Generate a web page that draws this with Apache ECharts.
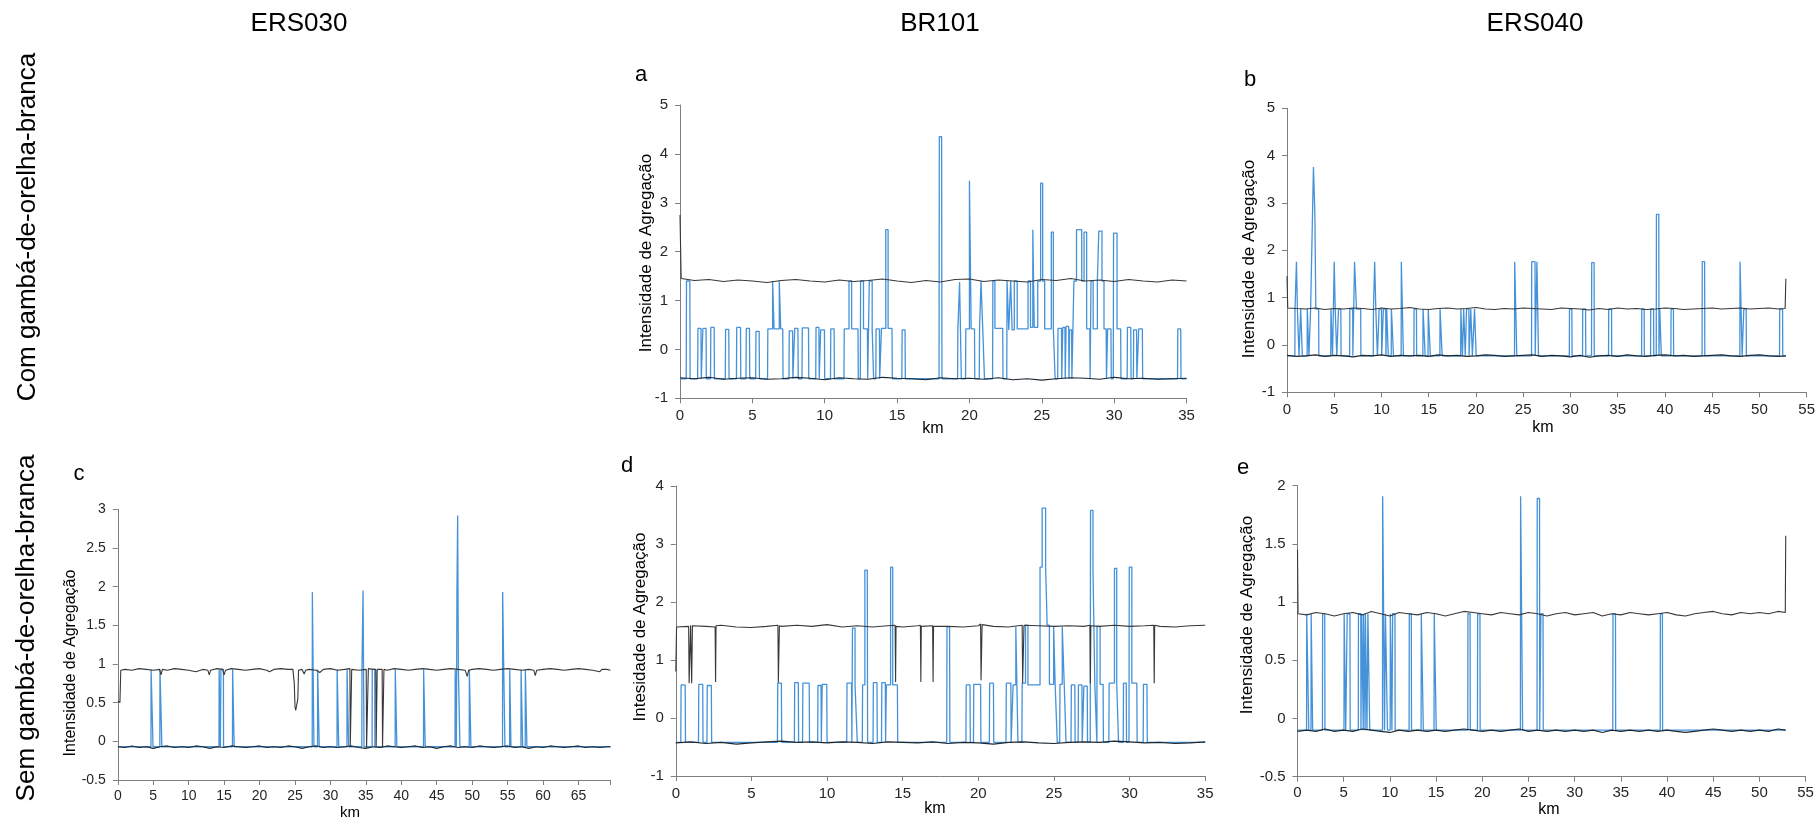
<!DOCTYPE html>
<html><head><meta charset="utf-8">
<script src="https://cdn.jsdelivr.net/npm/echarts@6/dist/echarts.min.js"></script>
<style>html,body{margin:0;padding:0;background:#fff}#c{width:1818px;height:822px}</style>
</head><body><div id="c"></div><script>
// ---------------- DATA ----------------
// Blue observed line: segments [startKm, endKm, level]; outside segments the line sits at the panel base level.
const BASE_A = -0.6;
const BLUE_A = [
[0.45,0.68,1.40],[1.24,1.45,0.43],[1.58,1.80,0.43],[2.13,2.36,0.45],[3.15,3.37,0.41],[3.92,4.18,0.45],
[4.58,4.80,0.43],[5.25,5.47,0.37],[6.07,6.40,0.42],[6.40,6.50,1.40],[6.50,6.86,0.42],[6.86,6.96,1.40],
[6.96,7.10,0.42],[7.55,7.78,0.38],[7.93,8.15,0.43],[8.45,8.88,0.44],[9.40,9.60,0.45],[9.72,9.98,0.40],
[10.42,10.65,0.42],[11.35,11.68,0.42],[11.68,11.86,1.40],[11.86,12.30,0.42],[12.48,12.68,1.40],[12.68,12.95,0.42],
[13.08,13.28,1.40],[13.28,13.36,0.42],[13.55,13.78,0.42],[13.92,14.22,0.43],[14.22,14.38,2.45],[14.38,14.65,0.43],
[15.35,15.55,0.40],[17.92,18.08,4.35],[19.20,19.32,0.40],[19.32,19.42,1.38],[19.75,20.00,0.42],[20.00,20.12,3.45],
[20.12,20.35,0.42],[20.70,20.80,0.42],[20.80,20.92,1.40],[20.92,21.02,0.42],[21.62,21.76,1.40],[21.76,22.30,0.43],
[22.60,22.72,1.40],[22.72,22.85,0.40],[22.85,22.95,1.40],[22.95,23.10,0.40],[23.10,23.30,1.40],[23.30,24.05,0.42],
[24.05,24.22,1.40],[24.22,24.38,0.45],[24.38,24.48,2.45],[24.48,24.72,0.45],[24.72,24.92,1.40],[24.92,25.06,3.40],
[25.06,25.20,1.40],[25.20,25.66,0.42],[25.66,25.80,2.40],[25.80,25.90,0.42],[26.12,26.36,0.43],[26.45,26.60,0.45],
[26.68,26.86,0.47],[26.92,27.06,0.40],[27.22,27.40,1.40],[27.40,27.76,2.45],[27.76,27.92,1.40],[27.92,28.10,2.40],
[28.10,28.32,0.42],[28.40,28.55,1.40],[28.55,28.84,0.42],[28.84,28.94,1.40],[28.94,29.16,2.42],[29.16,29.30,1.40],
[29.30,29.45,0.42],[29.55,29.78,0.42],[29.96,30.20,2.38],[30.20,30.45,0.42],[30.92,31.15,0.45],[31.35,31.55,0.40],
[31.70,31.95,0.42],[34.40,34.60,0.42]
];
const UPPER_A_HEAD = [[0,2.75],[0.08,1.45]];
const UPPER_A = [1.45,1.41,1.43,1.39,1.42,1.40,1.37,1.41,1.43,1.40,1.38,1.42,1.39,1.41,1.44,1.40,1.37,1.41,1.38,1.43,1.44,1.39,1.42,1.40,1.38,1.43,1.41,1.45,1.40,1.42,1.39,1.43,1.40,1.38,1.42,1.40];
const LOWER_A = [-0.58,-0.60,-0.57,-0.61,-0.59,-0.58,-0.61,-0.60,-0.57,-0.59,-0.62,-0.58,-0.60,-0.61,-0.57,-0.59,-0.60,-0.62,-0.58,-0.60,-0.59,-0.61,-0.58,-0.62,-0.60,-0.63,-0.60,-0.58,-0.59,-0.61,-0.57,-0.60,-0.59,-0.61,-0.60,-0.59];

const BASE_B = -0.23;
const BLUE_B = [
[0.85,1.00,0.76],[1.00,1.10,1.76],[1.10,1.25,0.76],[1.45,1.60,0.76],[2.15,2.30,0.76],[2.50,2.70,0.76],
[2.70,2.80,2.76],[2.80,2.95,3.76],[2.95,3.05,2.76],[3.05,3.35,0.76],[4.65,4.80,0.76],[5.00,5.10,1.76],
[5.10,5.25,0.76],[5.45,5.70,0.76],[6.65,6.95,0.76],[7.15,7.35,1.76],[7.35,7.80,0.76],[9.15,9.28,0.76],
[9.28,9.40,1.76],[9.40,9.55,0.76],[9.75,10.00,0.76],[10.20,10.45,0.76],[10.55,10.70,0.76],[11.05,11.25,0.76],
[12.10,12.30,1.76],[13.45,13.70,0.76],[14.40,14.60,0.76],[14.95,15.15,0.76],[16.20,16.40,0.76],[18.40,18.55,0.76],
[18.70,18.85,0.76],[19.00,19.25,0.76],[19.45,19.60,0.76],[19.85,20.00,0.76],[24.10,24.30,1.76],[25.90,26.25,1.76],
[26.45,26.60,1.76],[29.90,30.15,0.76],[31.30,31.60,0.76],[32.25,32.50,1.74],[34.05,34.35,0.76],[37.55,37.80,0.76],
[38.50,38.80,0.76],[39.10,39.35,2.76],[39.45,39.60,0.76],[40.65,40.90,0.76],[43.95,44.20,1.76],[47.95,48.15,1.76],
[48.35,48.60,0.76],[52.15,52.45,0.76]
];
const UPPER_B_HEAD = [[0,1.45],[0.08,0.78]];
const UPPER_B = [0.78,0.77,0.76,0.78,0.75,0.77,0.76,0.78,0.77,0.75,0.78,0.76,0.77,0.79,0.76,0.75,0.77,0.78,0.76,0.77,0.79,0.76,0.75,0.77,0.76,0.78,0.77,0.76,0.75,0.78,0.77,0.76,0.74,0.77,0.75,0.78,0.76,0.77,0.75,0.76,0.78,0.77,0.75,0.76,0.77,0.78,0.76,0.77,0.78,0.76,0.77,0.78,0.76];
const UPPER_B_TAIL = [[52.72,0.77],[52.8,1.40]];
const LOWER_B = [-0.22,-0.24,-0.23,-0.21,-0.24,-0.22,-0.23,-0.25,-0.22,-0.23,-0.21,-0.24,-0.22,-0.23,-0.22,-0.24,-0.21,-0.23,-0.22,-0.24,-0.23,-0.21,-0.22,-0.24,-0.23,-0.22,-0.21,-0.24,-0.22,-0.23,-0.25,-0.22,-0.26,-0.23,-0.22,-0.24,-0.21,-0.23,-0.24,-0.22,-0.21,-0.23,-0.22,-0.24,-0.23,-0.22,-0.21,-0.23,-0.24,-0.22,-0.21,-0.23,-0.24];
const LOWER_B_TAIL = [[52.8,-0.23]];

const BASE_C = -0.07;
const BLUE_C = [
[4.70,4.95,0.93],[5.95,6.20,0.93],[14.30,14.45,0.93],[14.55,14.90,0.93],[16.20,16.40,0.93],[27.45,27.65,1.93],
[28.20,28.40,0.93],[30.95,31.15,0.93],[32.35,32.55,0.93],[34.45,34.60,0.93],[34.60,34.72,1.95],[35.90,36.25,0.93],
[39.15,39.35,0.93],[43.15,43.35,0.93],[47.60,47.75,0.93],[47.85,47.95,1.93],[47.95,48.05,2.92],[48.05,48.25,0.93],
[49.60,49.80,0.93],[54.30,54.45,1.93],[54.45,54.60,0.93],[55.30,55.45,0.93],[56.90,57.10,0.93],[57.50,57.70,0.93]
];
const UPPER_C = [[0,0.52],[0.30,0.50],[0.42,0.92],[1,0.93],[2,0.92],[3,0.94],[4,0.93],[5,0.92],[5.9,0.93],[6.1,0.86],[6.3,0.93],
[7,0.92],[8,0.94],[9,0.93],[10,0.92],[11,0.90],[12,0.93],[12.7,0.92],[12.9,0.86],[13.1,0.92],[14,0.94],[14.8,0.93],[15,0.86],
[15.2,0.92],[16,0.94],[17,0.93],[18,0.92],[19,0.93],[20,0.94],[21,0.92],[21.4,0.90],[22,0.93],[23,0.94],[24,0.93],[24.7,0.93],
[24.9,0.75],[25.0,0.45],[25.1,0.40],[25.3,0.40],[25.4,0.55],[25.5,0.92],[26,0.93],[26.3,0.87],[26.5,0.92],[27,0.93],[28,0.92],
[28.5,0.89],[29,0.93],[30,0.94],[31,0.92],[32,0.93],[32.75,0.94],[32.8,-0.07],[32.95,-0.07],[33.0,0.93],[34,0.92],[35.05,0.93],
[35.1,-0.08],[35.3,-0.08],[35.35,0.94],[36,0.93],[36.4,0.93],[36.45,-0.07],[36.55,-0.07],[36.6,0.93],[37.3,0.93],[37.35,-0.08],
[37.5,-0.08],[37.55,0.93],[38,0.92],[39,0.94],[40,0.93],[41,0.92],[42,0.93],[43,0.94],[44,0.93],[45,0.92],[46,0.93],[47,0.94],
[48,0.93],[49,0.92],[49.3,0.84],[49.5,0.92],[50,0.93],[51,0.94],[52,0.93],[53,0.92],[54,0.93],[55,0.94],[56,0.93],[57,0.92],
[58,0.93],[58.7,0.92],[58.9,0.85],[59.1,0.92],[60,0.93],[61,0.94],[62,0.93],[63,0.92],[64,0.93],[65,0.94],[66,0.93],[67,0.92],
[68,0.90],[68.3,0.93],[69,0.93],[69.5,0.92]];
const LOWER_C = [-0.07,-0.08,-0.06,-0.08,-0.07,-0.09,-0.07,-0.06,-0.08,-0.07,-0.08,-0.06,-0.07,-0.09,-0.07,-0.08,-0.06,-0.07,-0.08,-0.07,-0.06,-0.08,-0.07,-0.08,-0.06,-0.07,-0.09,-0.07,-0.06,-0.08,-0.07,-0.08,-0.07,-0.06,-0.08,-0.09,-0.07,-0.08,-0.06,-0.07,-0.08,-0.07,-0.06,-0.08,-0.07,-0.09,-0.07,-0.06,-0.08,-0.07,-0.08,-0.06,-0.07,-0.08,-0.07,-0.06,-0.08,-0.07,-0.09,-0.07,-0.08,-0.06,-0.07,-0.08,-0.07,-0.06,-0.08,-0.07,-0.08,-0.07];
const LOWER_C_TAIL = [[69.5,-0.07]];

const BASE_D = -0.42;
const BLUE_D = [
[0.35,0.62,0.57],[1.52,1.78,0.58],[2.08,2.35,0.56],[6.74,6.98,0.60],[7.86,8.10,0.61],[8.40,8.82,0.60],
[9.40,9.60,0.56],[9.68,9.98,0.58],[11.32,11.62,0.60],[11.68,11.85,1.55],[11.85,11.98,0.56],[12.35,12.50,0.57],
[12.50,12.66,2.55],[13.06,13.30,0.61],[13.62,13.85,0.61],[13.92,14.20,0.57],[14.20,14.34,2.60],[14.34,14.65,0.57],
[17.93,18.10,1.57],[19.20,19.45,0.57],[19.70,20.15,0.58],[20.75,21.00,0.60],[21.85,22.15,0.60],[22.30,22.48,0.57],
[22.48,22.60,1.57],[22.90,23.12,0.60],[23.12,23.28,1.60],[23.28,24.08,0.57],[24.08,24.22,2.60],[24.22,24.45,3.62],
[24.45,24.55,2.60],[24.55,24.70,1.60],[24.70,24.98,0.58],[24.98,25.08,1.57],[25.08,25.20,0.58],[25.40,25.55,0.58],
[25.55,25.68,1.57],[25.68,25.78,0.58],[26.15,26.38,0.57],[26.62,26.85,0.57],[26.98,27.20,0.55],[27.42,27.58,3.58],
[27.58,27.70,2.58],[27.70,27.82,0.60],[27.85,28.05,1.58],[28.05,28.25,0.58],[28.65,29.00,0.60],[29.00,29.15,2.58],
[29.15,29.25,0.60],[29.60,29.78,0.60],[29.98,30.15,2.60],[30.15,30.48,0.60],[30.92,31.15,0.58]
];
const UPPER_D = [[0,0.80],[0.05,1.57],[0.85,1.58],[0.88,0.60],[0.95,0.60],[0.98,1.60],[1.02,1.61],[1.05,0.60],[1.08,0.62],
[1.10,1.59],[2,1.58],[2.6,1.57],[2.63,0.62],[2.66,1.59],[3,1.60],[4,1.57],[5,1.56],[6,1.58],[6.75,1.60],[6.78,0.61],[6.82,0.62],
[6.85,1.59],[7,1.58],[8,1.60],[9,1.58],[10,1.61],[11,1.57],[12,1.59],[13,1.57],[14,1.59],[14.5,1.60],[14.53,0.62],[14.56,1.58],
[15,1.57],[16,1.59],[16.17,1.60],[16.2,0.62],[16.23,1.58],[16.98,1.59],[17.01,0.62],[17.04,1.58],[18,1.58],[19,1.57],[20,1.59],
[20.15,1.62],[20.18,0.65],[20.22,0.66],[20.25,1.61],[21,1.58],[22,1.57],[22.9,1.60],[22.93,0.60],[22.98,0.62],[23.02,1.60],
[24,1.59],[25,1.58],[26,1.59],[27,1.58],[27.38,1.60],[27.41,0.60],[27.44,1.59],[28,1.58],[29,1.60],[30,1.58],[31,1.59],
[31.6,1.60],[31.63,0.60],[31.66,1.60],[32,1.58],[33,1.57],[34,1.59],[35,1.60]];
const LOWER_D = [-0.43,-0.41,-0.44,-0.42,-0.45,-0.43,-0.41,-0.40,-0.42,-0.41,-0.43,-0.41,-0.42,-0.44,-0.41,-0.42,-0.43,-0.41,-0.44,-0.42,-0.43,-0.45,-0.42,-0.41,-0.43,-0.44,-0.42,-0.41,-0.42,-0.40,-0.41,-0.43,-0.42,-0.44,-0.43,-0.41];

const BASE_E = -0.10;
const BLUE_E = [
[1.00,1.20,0.90],[1.48,1.62,0.90],[2.72,2.95,0.90],[5.05,5.20,0.90],[5.38,5.68,0.90],[6.60,6.85,0.90],
[6.95,7.10,0.90],[7.15,7.30,0.90],[7.35,7.50,0.90],[7.62,7.80,0.90],[9.22,9.40,1.91],[9.52,9.72,0.90],
[10.05,10.20,0.90],[10.30,10.55,0.90],[12.10,12.32,0.90],[13.40,13.60,0.90],[14.80,15.00,0.90],[18.45,18.68,0.90],
[19.50,19.75,0.90],[24.15,24.35,1.91],[25.95,26.20,1.89],[26.35,26.58,0.90],[34.15,34.42,0.90],[39.28,39.50,0.90]
];
const UPPER_E_HEAD = [[0,1.45],[0.06,0.90]];
const UPPER_E = [0.90,0.89,0.91,0.90,0.88,0.90,0.91,0.89,0.92,0.90,0.88,0.91,0.90,0.89,0.91,0.90,0.88,0.90,0.92,0.91,0.90,0.89,0.91,0.90,0.89,0.91,0.90,0.88,0.90,0.91,0.89,0.90,0.91,0.88,0.90,0.89,0.91,0.90,0.89,0.90,0.91,0.89,0.88,0.90,0.91,0.92,0.90,0.89,0.91,0.90,0.91,0.90,0.92];
const UPPER_E_TAIL = [[52.8,0.91],[52.85,1.57]];
const LOWER_E = [-0.11,-0.10,-0.11,-0.09,-0.11,-0.10,-0.11,-0.09,-0.10,-0.11,-0.12,-0.10,-0.11,-0.10,-0.11,-0.10,-0.11,-0.10,-0.09,-0.10,-0.11,-0.10,-0.11,-0.10,-0.09,-0.11,-0.10,-0.11,-0.10,-0.11,-0.10,-0.11,-0.10,-0.12,-0.10,-0.11,-0.10,-0.11,-0.10,-0.11,-0.10,-0.11,-0.12,-0.11,-0.10,-0.09,-0.10,-0.11,-0.10,-0.11,-0.10,-0.11,-0.09];
const LOWER_E_TAIL = [[52.85,-0.10]];

const COLUMN_TITLES = ['ERS030','BR101','ERS040'];
const ROW_TITLES = ['Com gambá-de-orelha-branca','Sem gambá-de-orelha-branca'];
const Y_TITLE = 'Intensidade de Agregação';
const Y_TITLE_D = 'Intesidade de Agregação';
const X_TITLE = 'km';

// ---------------- BUILDERS ----------------
function perKm(vals, head, tail){
  const h = head || [], t = tail || [];
  const lastHead = h.length ? h[h.length-1][0] : -1;
  const firstTail = t.length ? t[0][0] : Infinity;
  const mid = vals.map((v,i)=>[i,v]).filter(p=>p[0]>lastHead && p[0]<firstTail);
  return h.concat(mid, t);
}
function steps(segs, base, xEnd){
  const r = 0.02;
  const pts = [[0,base]]; let lastX = 0, lastV = base;
  segs.forEach(([s,e,v])=>{
    if (s - lastX > 0.001){
      if (lastV !== base) pts.push([lastX + r, base]);
      pts.push([s - r, base]);
    }
    pts.push([s,v],[e,v]);
    lastX = e; lastV = v;
  });
  pts.push([lastX + r, base],[xEnd, base]);
  return pts;
}

const FONT = "'Liberation Sans', Arial, Helvetica, sans-serif";
const panels = [
  {grid:{left:680,top:105,width:506.5,height:293.3}, x:[0,35,5], y:[-1,5,1], tick:15, xm:10,
   blue:steps(BLUE_A,BASE_A,35), upper:perKm(UPPER_A,UPPER_A_HEAD), lower:perKm(LOWER_A)},
  {grid:{left:1287,top:108.3,width:519.7,height:284}, x:[0,55,5], y:[-1,5,1], tick:15, xm:10,
   blue:steps(BLUE_B,BASE_B,52.8), upper:perKm(UPPER_B,UPPER_B_HEAD,UPPER_B_TAIL), lower:perKm(LOWER_B,null,LOWER_B_TAIL)},
  {grid:{left:117.8,top:509.3,width:492.6,height:270.7}, x:[0,69.5,5], y:[-0.5,3,0.5], tick:14, xm:9,
   blue:steps(BLUE_C,BASE_C,69.5), upper:UPPER_C, lower:perKm(LOWER_C,null,LOWER_C_TAIL)},
  {grid:{left:675.8,top:486,width:529.4,height:290}, x:[0,35,5], y:[-1,4,1], tick:15, xm:10,
   blue:steps(BLUE_D,BASE_D,35), upper:UPPER_D, lower:perKm(LOWER_D)},
  {grid:{left:1297.5,top:485.7,width:508.1,height:291}, x:[0,55,5], y:[-0.5,2,0.5], tick:15, xm:9,
   blue:steps(BLUE_E,BASE_E,52.85), upper:perKm(UPPER_E,UPPER_E_HEAD,UPPER_E_TAIL), lower:perKm(LOWER_E,null,LOWER_E_TAIL)}
];

const AX = '#7f7f7f';
const grid = [], xAxis = [], yAxis = [], series = [];
panels.forEach((p,i)=>{
  grid.push(Object.assign({containLabel:false}, p.grid));
  xAxis.push({type:'value', gridIndex:i, min:p.x[0], max:p.x[1], interval:p.x[2],
    axisLine:{onZero:false, lineStyle:{color:AX,width:1}},
    axisTick:{show:true, inside:false, length:5, lineStyle:{color:AX}},
    splitLine:{show:false},
    axisLabel:{color:'#262626', fontSize:p.tick, fontFamily:FONT, margin:p.xm,
      formatter:v=>(Math.abs(v/5-Math.round(v/5))<1e-9 ? String(v) : '')}});
  yAxis.push({type:'value', gridIndex:i, min:p.y[0], max:p.y[1], interval:p.y[2],
    axisLine:{show:true, onZero:false, lineStyle:{color:AX,width:1}},
    axisTick:{show:true, inside:false, length:5, lineStyle:{color:AX}},
    splitLine:{show:false},
    axisLabel:{color:'#262626', fontSize:p.tick, fontFamily:FONT, margin:12}});
  const common = {type:'line', xAxisIndex:i, yAxisIndex:i, showSymbol:false, symbol:'none', silent:true, animation:false};
  series.push(Object.assign({}, common, {data:p.blue, z:2, lineStyle:{color:'#4592d9', width:1.3}}));
  series.push(Object.assign({}, common, {data:p.lower, z:3, lineStyle:{color:'#1e2830', width:1.2}}));
  series.push(Object.assign({}, common, {data:p.upper, z:3, lineStyle:{color:'#383838', width:1.1}}));
});

function txt(text, x, y, size, rot){
  return {type:'text', x:x, y:y, rotation:rot||0, silent:true,
    style:{text:text, font:size+'px '+FONT, fill:'#000', textAlign:'center', textVerticalAlign:'middle', align:'center', verticalAlign:'middle'}};
}
const R = Math.PI/2;
const graphic = [
  txt(COLUMN_TITLES[0], 299, 24, 26), txt(COLUMN_TITLES[1], 940, 24, 26), txt(COLUMN_TITLES[2], 1535, 24, 26),
  txt(ROW_TITLES[0], 28, 227, 26, R), txt(ROW_TITLES[1], 27, 628, 26, R),
  txt('a', 641, 75, 22), txt('b', 1250, 80, 22), txt('c', 79, 474, 22), txt('d', 627, 466, 22), txt('e', 1243, 468, 22),
  txt(Y_TITLE, 646, 253, 17, R), txt(Y_TITLE, 1249, 259, 17, R), txt(Y_TITLE, 71, 663, 16, R),
  txt(Y_TITLE_D, 640, 627, 17, R), txt(Y_TITLE, 1247, 615, 17, R),
  txt(X_TITLE, 933, 429, 16), txt(X_TITLE, 1543, 428, 16), txt(X_TITLE, 350, 813, 15),
  txt(X_TITLE, 935, 809, 16), txt(X_TITLE, 1549, 810, 16)
];

const chart = echarts.init(document.getElementById('c'), null, {renderer:'canvas'});
chart.setOption({backgroundColor:'#fff', animation:false, grid, xAxis, yAxis, series, graphic});
</script></body></html>
